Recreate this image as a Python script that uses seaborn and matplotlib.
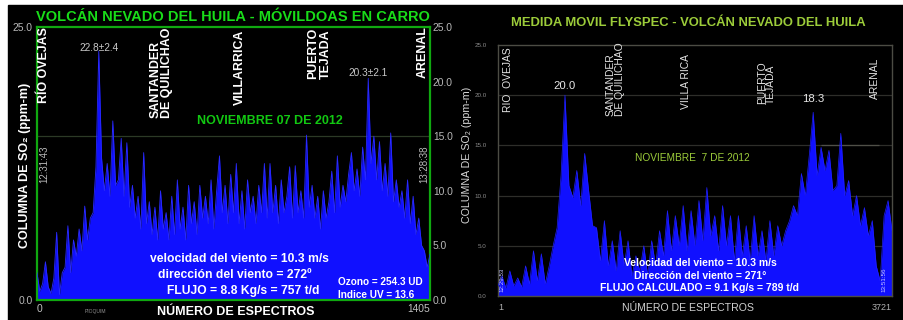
import numpy as np
import matplotlib
matplotlib.use("Agg")
import matplotlib.pyplot as plt
from matplotlib.patches import Rectangle
import seaborn as sns

# ---------------------------------------------------------------------------
# SO2 column amounts (ppm-m) along the traverse, Nevado del Huila, 7 Nov 2012
# ---------------------------------------------------------------------------
doas_so2 = [
    2.5, 0.8, 1.5, 3.5, 1.2, 0.6, 2.0, 6.2, 0.5, 2.5,
    3.0, 6.8, 2.5, 5.5, 4.0, 6.5, 4.5, 8.6, 5.5, 7.5,
    8.0, 12.2, 22.8, 13.0, 10.0, 12.5, 9.5, 16.4, 10.5, 11.0,
    14.8, 9.5, 14.4, 8.5, 10.5, 7.5, 9.5, 6.5, 13.5, 7.0,
    9.0, 6.0, 8.5, 5.5, 10.0, 6.5, 8.0, 5.5, 9.5, 6.0,
    11.0, 6.5, 8.5, 5.5, 10.5, 7.0, 9.0, 6.0, 10.5, 7.5,
    9.5, 7.0, 11.0, 6.5, 10.0, 13.2, 8.0, 10.5, 7.0, 11.5,
    8.0, 12.5, 7.0, 10.0, 6.5, 11.0, 8.0, 9.5, 7.0, 10.5,
    8.0, 12.5, 7.5, 12.5, 8.0, 10.5, 7.0, 11.0, 8.0, 9.5,
    12.2, 7.5, 12.3, 8.0, 10.0, 7.5, 15.1, 8.5, 10.5, 7.5,
    9.5, 6.5, 10.0, 7.5, 9.0, 11.8, 8.0, 13.2, 8.5, 10.5,
    9.0, 11.5, 13.5, 10.0, 12.0, 9.5, 14.0, 11.0, 20.3, 12.5,
    15.0, 11.0, 14.5, 10.0, 12.5, 9.5, 15.3, 9.0, 11.0, 8.5,
    10.0, 7.5, 11.0, 7.0, 9.5, 6.0, 7.5, 5.0, 4.5, 3.0, 4.2,
]
doas_first, doas_last = 0, 1405

flyspec_so2 = [
    1.0, 2.0, 0.8, 2.5, 1.0, 1.8, 0.9, 3.0, 1.2, 4.5,
    1.5, 4.2, 1.2, 3.0, 5.0, 6.8, 12.0, 20.0, 11.0, 9.8,
    12.5, 9.0, 14.2, 10.5, 7.0, 6.8, 3.5, 7.5, 3.0, 5.5,
    2.5, 6.5, 3.0, 5.5, 2.0, 4.0, 2.5, 5.0, 2.0, 5.5,
    3.0, 6.5, 4.0, 8.5, 4.5, 8.0, 5.0, 9.0, 4.5, 8.5,
    5.0, 9.5, 5.5, 10.8, 6.0, 8.0, 4.5, 9.0, 5.0, 8.0,
    3.5, 8.0, 4.0, 7.0, 3.5, 8.0, 4.0, 6.5, 3.5, 7.5,
    4.0, 7.0, 5.0, 6.5, 7.5, 9.0, 8.0, 12.2, 10.0, 14.0,
    18.3, 12.0, 14.8, 12.5, 14.5, 10.5, 11.0, 16.2, 10.0, 11.5,
    8.0, 10.0, 7.0, 8.8, 6.0, 7.5, 3.0, 1.5, 8.0, 9.5, 6.5,
]
flyspec_first, flyspec_last = 1, 3721

# Towns crossed, with the spectrum number at which each was passed
doas_towns = ["RÍO OVEJAS", "SANTANDER\nDE QUILICHAO", "VILLARRICA",
              "PUERTO\nTEJADA", "ARENAL"]
doas_town_spectra = [25, 445, 726, 1010, 1380]
flyspec_towns = ["RIO  OVEJAS", "SANTANDER\nDE QUILICHAO", "VILLA RICA",
                 "PUERTO\nTEJADA", "ARENAL"]
flyspec_town_spectra = [100, 1106, 1776, 2536, 3560]

doas_peak_labels = ["22.8±2.4", "20.3±2.1"]
flyspec_peak_labels = ["20.0", "18.3"]

# ---------------------------------------------------------------------------
sns.set_theme(style="dark")
plt.rcParams["font.family"] = ["Liberation Sans", "DejaVu Sans"]
NARROW = ["Liberation Sans Narrow", "Liberation Sans", "DejaVu Sans"]

W, H = 904, 320
fig = plt.figure(figsize=(W / 100, H / 100), dpi=100, facecolor="white")
fig.patches.append(Rectangle((8 / W, 0), 1 - 8 / W, 1 - 5 / H,
                             transform=fig.transFigure, color="black",
                             zorder=-10))


def ftext(x, y, s, **kw):
    """Place text at pixel position (x from left, y from top)."""
    kw.setdefault("ha", "center")
    kw.setdefault("va", "center")
    return fig.text(x / W, 1 - y / H, s, **kw)


def ax_rect(x0, y0, x1, y1):
    return [x0 / W, 1 - y1 / H, (x1 - x0) / W, (y1 - y0) / H]


BLUE = "#1010ff"
GREEN = "#12c812"
YGREEN = "#9ccc3a"

# ----------------------------- DOAS panel ---------------------------------
ax1 = fig.add_axes(ax_rect(37, 27, 430, 300))
ax1.set_facecolor("black")
x1 = np.linspace(doas_first, doas_last, len(doas_so2))
d1 = {"espectro": x1, "so2": doas_so2}
ax1.fill_between(x1, 0, doas_so2, color=BLUE, lw=0, zorder=2)
sns.lineplot(data=d1, x="espectro", y="so2", ax=ax1, color="#2a2aff",
             lw=0.6, zorder=3)
ax1.axhline(15, color="#2c3a26", lw=0.9, zorder=1)
ax1.set_xlim(doas_first, doas_last)
ax1.set_ylim(0, 25)
ax1.grid(False)
for s in ax1.spines.values():
    s.set_color("#10a810")
    s.set_linewidth(1.6)
    s.set_visible(True)
ax1.set_xlabel("")
ax1.set_ylabel("")
ax1.set_yticks([0, 25])
ax1.set_yticklabels(["0.0", "25.0"])
ax1.tick_params(axis="y", length=0, pad=3, labelsize=7.4, labelcolor="#b8b8b8")
ax1.set_xticks([doas_first, doas_last])
ax1.set_xticklabels([str(doas_first), str(doas_last)])
ax1.tick_params(axis="x", length=0, pad=3, labelsize=7.4, labelcolor="#c0c0c0")
lbls = ax1.get_xticklabels()
lbls[0].set_ha("left")
lbls[1].set_ha("right")
sec1 = ax1.secondary_yaxis("right")
sec1.set_yticks([0, 5, 10, 15, 20, 25])
sec1.set_yticklabels(["0.0", "5.0", "10.0", "15.0", "20.0", "25.0"])
sec1.tick_params(length=0, pad=2, labelsize=7.4, labelcolor="#b8b8b8")
sec1.spines["right"].set_visible(False)

doas_bottoms = [18.0, 16.7, 17.9, 20.2, 20.3]
for name, sp, yb in zip(doas_towns, doas_town_spectra, doas_bottoms):
    ax1.text(sp, yb, name, rotation=90, ha="center", va="bottom",
             multialignment="left", linespacing=1.0, color="white",
             fontsize=8.9, fontweight="bold", zorder=5)

pk1 = int(np.argmax(doas_so2[:60]))
pk2 = 60 + int(np.argmax(doas_so2[60:]))
ax1.text(x1[pk1], 23.1, doas_peak_labels[0], ha="center", va="center",
         fontsize=7.3, color="#c8c8c8", zorder=5)
ax1.text(x1[pk2], 20.8, doas_peak_labels[1], ha="center", va="center",
         fontsize=7.3, color="#c8c8c8", zorder=5)

ftext(233, 17, "VOLCÁN NEVADO DEL HUILA - MÓVILDOAS EN CARRO",
      color="#19dd19", fontsize=10.5, fontweight="bold")
ftext(270, 121, "NOVIEMBRE 07 DE 2012", color=GREEN, fontsize=9,
      fontweight="bold")
ftext(25, 165, "COLUMNA DE SO₂ (ppm-m)", rotation=90, color="white",
      fontsize=9, fontweight="bold")
ftext(44, 164, "12:31:43", rotation=90, color="#b8b8b8", fontsize=7)
ftext(424, 164, "13:28:38", rotation=90, color="#b8b8b8", fontsize=7)
ftext(236, 312, "NÚMERO DE ESPECTROS", color="white", fontsize=9,
      fontweight="bold")
ftext(95, 312, "PIOQUIM", color="#909090", fontsize=3.6)
ftext(239, 259, "velocidad del viento = 10.3 m/s", color="white",
      fontsize=8.7, fontweight="bold", zorder=6)
ftext(235, 275, "dirección del viento = 272º", color="white",
      fontsize=8.7, fontweight="bold", zorder=6)
ftext(243, 291, "FLUJO = 8.8 Kg/s = 757 t/d", color="white",
      fontsize=8.7, fontweight="bold", zorder=6)
ftext(338, 282, "Ozono = 254.3 UD", ha="left", color="white",
      fontsize=7.2, fontweight="bold", zorder=6)
ftext(338, 295, "Indice UV = 13.6", ha="left", color="white",
      fontsize=7.2, fontweight="bold", zorder=6)

# ---------------------------- FLYSPEC panel -------------------------------
ax2 = fig.add_axes(ax_rect(498, 45, 892, 296))
ax2.set_facecolor("black")
x2 = np.linspace(flyspec_first, flyspec_last, len(flyspec_so2))
d2 = {"espectro": x2, "so2": flyspec_so2}
ax2.fill_between(x2, 0, flyspec_so2, color=BLUE, lw=0, zorder=2)
sns.lineplot(data=d2, x="espectro", y="so2", ax=ax2, color="#2020ff",
             lw=0.5, zorder=3)
for g in (5, 10, 15, 20):
    ax2.axhline(g, color="#2e2e2a", lw=0.9, zorder=1)
ax2.hlines(15, 3050, 3600, color="#505048", lw=0.9, zorder=1)
ax2.set_xlim(flyspec_first, flyspec_last)
ax2.set_ylim(0, 25)
ax2.grid(False)
for s in ax2.spines.values():
    s.set_color("#4c4c44")
    s.set_linewidth(1.0)
    s.set_visible(True)
ax2.set_xlabel("")
ax2.set_ylabel("")
ax2.set_yticks([0, 5, 10, 15, 20, 25])
ax2.set_yticklabels(["0.0", "5.0", "10.0", "15.0", "20.0", "25.0"])
ax2.tick_params(axis="y", length=0, pad=8, labelsize=4.5, labelcolor="#8a8a8a")
ax2.set_xticks([flyspec_first, flyspec_last])
ax2.set_xticklabels([str(flyspec_first), str(flyspec_last)])
ax2.tick_params(axis="x", length=0, pad=5, labelsize=6.5, labelcolor="#b0b0b0")
lb2 = ax2.get_xticklabels()
lb2[0].set_ha("left")
lb2[1].set_ha("right")

fly_bottoms = [18.3, 17.9, 18.6, 19.1, 19.6]
for name, sp, yb in zip(flyspec_towns, flyspec_town_spectra, fly_bottoms):
    ax2.text(sp, yb, name, rotation=90, ha="center", va="bottom",
             multialignment="left", linespacing=0.95, color="#e4e4e4",
             fontsize=7.4, family=NARROW, zorder=5)

q1 = int(np.argmax(flyspec_so2[:50]))
q2 = 50 + int(np.argmax(flyspec_so2[50:]))
ax2.text(x2[q1], 20.9, flyspec_peak_labels[0], ha="center", va="center",
         fontsize=8.2, family=NARROW, color="#e8e8e8", zorder=5)
ax2.text(x2[q2], 19.6, flyspec_peak_labels[1], ha="center", va="center",
         fontsize=8.2, family=NARROW, color="#e8e8e8", zorder=5)

ftext(688, 23, "MEDIDA MOVIL FLYSPEC - VOLCÁN NEVADO DEL HUILA",
      color=YGREEN, fontsize=9.4, fontweight="bold")
ftext(692, 158, "NOVIEMBRE  7 DE 2012", color=YGREEN, fontsize=7.3,
      family=NARROW)
ftext(467, 155, "COLUMNA DE SO₂ (ppm-m)", rotation=90, color="#d8d8d8",
      fontsize=7.7, family=NARROW)
ftext(502, 280, "12:29:53", rotation=90, color="#c8c8ff", fontsize=4.5)
ftext(884, 280, "13:51:56", rotation=90, color="#c8c8ff", fontsize=4.5)
ftext(688, 308, "NÚMERO DE ESPECTROS", color="#d0d0d0", fontsize=7.6,
      family=NARROW)
ftext(700, 263, "Velocidad del viento = 10.3 m/s", color="white",
      fontsize=7.5, fontweight="bold", zorder=6)
ftext(700, 276, "Dirección del viento = 271°", color="white",
      fontsize=7.5, fontweight="bold", zorder=6)
ftext(700, 288, "FLUJO CALCULADO = 9.1 Kg/s = 789 t/d", color="white",
      fontsize=7.5, fontweight="bold", zorder=6)

fig.savefig("out.png", dpi=100, facecolor=fig.get_facecolor())
